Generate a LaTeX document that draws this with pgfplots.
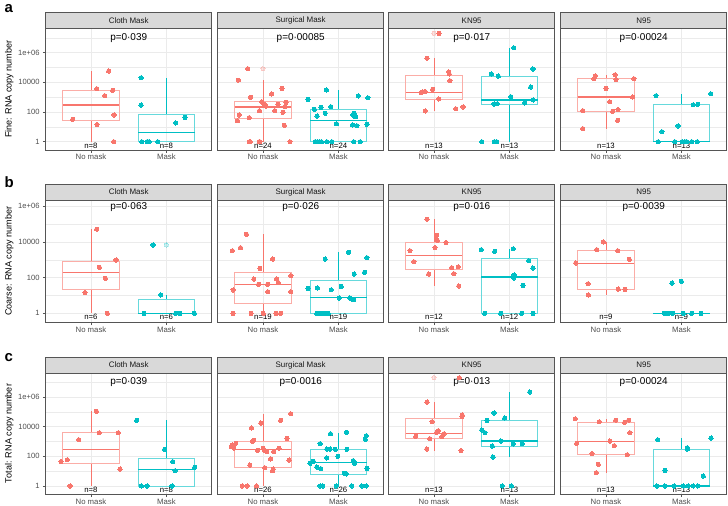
\documentclass[border=0pt]{standalone}
\usepackage{fontspec}
\setmainfont{Liberation Sans}
\usepackage{pgfplots}
\pgfplotsset{compat=1.18}
\usepgfplotslibrary{statistics}
\definecolor{nm}{HTML}{F8766D}
\definecolor{mk}{HTML}{00BFC4}
\definecolor{gridc}{HTML}{EBEBEB}
\definecolor{bordc}{HTML}{555555}
\definecolor{stripc}{HTML}{D9D9D9}
\definecolor{tickc}{HTML}{4D4D4D}

\pgfplotsset{
  fac/.style={
    scale only axis, width=166bp, clip=false,
    xmin=0.4, xmax=2.6, xtick={1,2}, xticklabels={No mask,Mask},
    ytick={0,2,4,6}, minor ytick={1,3,5,7},
    grid=both,
    major grid style={draw=gridc, line width=0.8bp},
    minor grid style={draw=gridc, line width=0.4bp},
    axis line style={draw=bordc, line width=0.7bp},
    tick align=outside, xtick pos=left, ytick pos=left,
    major tick length=2.7bp, minor tick length=0pt,
    tick style={draw=bordc, line width=0.5bp},
    tick label style={font=\fontsize{7.6}{9}\selectfont, text=tickc},
    xticklabel style={font=\fontsize{7.8}{9}\selectfont, inner sep=1.2bp},
  },
  rowac/.style={height=121.7bp, ymin=-0.56, ymax=7.64},
  rowb/.style={height=122.3bp, ymin=-0.5, ymax=6.35},
  lft/.style={yticklabels={1,100,10000,1e+06}},
  inr/.style={yticklabels={}, ytick style={draw=none}},
}

% colour, position, lower whisker, lower quartile, median, upper quartile, upper whisker
\newcommand{\bxp}[7]{\addplot[draw=#1, boxplot prepared={draw direction=y, draw position=#2,
  lower whisker=#3, lower quartile=#4, median=#5, upper quartile=#6, upper whisker=#7,
  box extend=0.75, whisker extend=0,
  every box/.style={draw=#1!60!white, line width=0.8bp},
  every median/.style={draw=#1, line width=1.3bp},
  every whisker/.style={draw=#1, line width=0.7bp}}] coordinates {};}
\newcommand{\pts}[2]{\addplot[only marks, color=#1, mark=*, mark size=2.1bp,
  mark options={solid, fill=#1, draw=#1, line width=0pt}] coordinates {#2};}
\newcommand{\outl}[2]{\addplot[only marks, color=#1, mark=*, mark size=2.1bp,
  mark options={solid, fill=#1, draw=#1, line width=0pt, opacity=0.2}] coordinates {#2};}
\newcommand{\plab}[2]{\node[font=\fontsize{10}{12}\selectfont] at (axis cs:1.5,#1) {#2};}
\newcommand{\nlab}[1]{%
  \node[anchor=north, inner sep=0.8bp, font=\fontsize{7.8}{9}\selectfont] at (axis cs:1,0) {n=#1};
  \node[anchor=north, inner sep=0.8bp, font=\fontsize{7.8}{9}\selectfont] at (axis cs:2,0) {n=#1};}
\newcommand{\strip}[3]{%
  \draw[fill=stripc, draw=bordc, line width=0.6bp] (#1bp,-#2bp) rectangle ++(166bp,-15.6bp);
  \node[font=\fontsize{8}{9}\selectfont, text=black!90] at (#1bp+83bp,-#2bp-7.8bp) {#3};}

\begin{document}
\begin{tikzpicture}
\useasboundingbox (0,0) rectangle (728bp,-506bp);

% ---------- row a: Fine ----------
\begin{axis}[fac, rowac, lft, at={(45.7bp,-150bp)}, anchor=south west]
\bxp{nm}{1}{0}{1.44}{2.47}{3.48}{4.76}
\bxp{mk}{2}{0}{0}{0.63}{1.84}{4.31}
\pts{nm}{(1.235,4.76) (1.076,3.57) (1.288,3.46) (1.182,3.10) (1.306,1.80) (0.758,1.51) (1.080,1.15) (1.301,0)}
\pts{mk}{(1.664,4.31) (1.664,2.47) (2.247,1.64) (2.123,1.26) (1.672,0) (1.743,0) (1.770,0) (1.884,0)}
\plab{7.0}{p=0·039}
\nlab{8}
\end{axis}

\begin{axis}[fac, rowac, inr, at={(217.7bp,-150bp)}, anchor=south west]
\bxp{nm}{1}{0}{1.57}{2.33}{2.69}{4.15}
\bxp{mk}{2}{0}{0}{1.44}{2.15}{3.48}
\outl{nm}{(1,4.92)}
\pts{nm}{(0.799,4.92) (0.675,4.15) (1.252,3.59) (1.114,3.21) (0.835,2.99) (0.985,2.69) (1.008,2.56) (1.021,2.45) (1.305,2.65) (1.287,2.36) (1.158,2.09) (1.265,1.98) (0.954,2.09) (0.684,1.80) (0.817,1.62) (0.662,1.41) (1.283,1.10) (0.821,0) (0.950,0) (1.358,0) (1.198,2.51) (0.830,0) (0.960,0) (1.04,2.40)}
\pts{mk}{(1.841,3.48) (1.597,2.85) (1.682,2.18) (1.770,2.31) (1.899,2.36) (1.717,1.73) (1.824,1.91) (2.263,3.08) (2.391,2.96) (2.209,1.91) (2.192,1.80) (2.227,1.68) (1.974,1.21) (2.187,1.12) (2.245,1.08) (2.378,1.17) (1.691,0) (1.722,0) (1.748,0) (1.775,0) (1.846,0) (1.912,0) (2.201,0) (2.289,0)}
\plab{7.0}{p=0·00085}
\nlab{24}
\end{axis}

\begin{axis}[fac, rowac, inr, at={(388.7bp,-150bp)}, anchor=south west]
\bxp{nm}{1}{2.07}{2.88}{3.33}{4.47}{5.62}
\bxp{mk}{2}{0}{2.52}{2.81}{4.40}{6.33}
\outl{nm}{(1,7.30)}
\pts{nm}{(1.067,7.30) (0.908,5.62) (1.195,4.71) (1.203,4.56) (1.212,4.11) (0.983,3.53) (0.851,3.35) (0.828,3.30) (1.063,2.88) (0.885,2.07) (1.288,2.22) (1.385,2.34) (0.88,3.38)}
\pts{mk}{(2.057,6.33) (1.760,4.56) (1.853,4.42) (2.312,4.90) (2.282,3.68) (2.017,3.03) (2.316,2.81) (1.796,2.54) (1.839,2.56) (2.202,2.61) (1.633,0) (1.799,0) (1.831,0)}
\plab{7.0}{p=0·017}
\nlab{13}
\end{axis}

\begin{axis}[fac, rowac, inr, at={(560.7bp,-150bp)}, anchor=south west]
\bxp{nm}{1}{0.88}{2.07}{3.01}{4.24}{4.51}
\bxp{mk}{2}{0}{0}{0}{2.49}{3.23}
\pts{nm}{(0.859,4.44) (0.841,4.24) (1.120,4.51) (1.133,4.18) (1.371,4.24) (1.000,3.59) (1.354,3.01) (1.049,2.69) (0.692,2.09) (1.159,2.16) (1.089,2.05) (1.155,1.44) (0.692,0.88)}
\pts{mk}{(1.663,3.10) (2.388,3.23) (1.742,0.67) (1.955,1.06) (2.157,2.49) (2.216,2.52) (1.694,0) (1.911,0) (2.008,0) (2.047,0) (2.070,0) (2.136,0) (2.210,0)}
\plab{7.0}{p=0·00024}
\nlab{13}
\end{axis}

% ---------- row b: Coarse ----------
\begin{axis}[fac, rowb, lft, at={(45.7bp,-322.3bp)}, anchor=south west]
\bxp{nm}{1}{0}{1.36}{2.28}{2.89}{4.72}
\bxp{mk}{2}{0}{0}{0}{0.77}{1.03}
\outl{mk}{(2,3.83)}
\pts{nm}{(1.076,4.72) (1.332,2.99) (1.111,2.58) (1.191,1.96) (0.921,1.16) (1.217,0)}
\pts{mk}{(1.823,3.83) (1.924,1.03) (1.703,0) (2.123,0) (2.180,0) (2.370,0)}
\plab{5.98}{p=0·063}
\nlab{6}
\end{axis}

\begin{axis}[fac, rowb, inr, at={(217.7bp,-322.3bp)}, anchor=south west]
\bxp{nm}{1}{0}{0.58}{1.62}{2.30}{4.42}
\bxp{mk}{2}{0}{0}{0.87}{1.85}{3.42}
\pts{nm}{(0.781,4.42) (0.702,3.68) (0.595,3.51) (1.127,3.04) (0.959,2.52) (1.371,2.11) (0.879,1.92) (1.181,1.92) (1.203,1.73) (0.941,1.62) (1.061,1.62) (0.604,1.31) (1.065,1.21) (1.367,1.21) (0.604,0) (0.843,0) (1.003,0) (1.172,0) (1.234,0)}
\pts{mk}{(2.134,3.42) (2.378,3.12) (1.824,3.04) (2.347,2.30) (2.209,2.20) (1.597,1.40) (1.722,1.42) (1.903,1.32) (2.037,1.51) (2.010,0.86) (2.152,0.86) (2.174,0.80) (2.201,0.76) (1.713,0) (1.748,0) (1.784,0) (1.819,0) (1.837,0) (1.864,0)}
\plab{5.98}{p=0·026}
\nlab{19}
\end{axis}

\begin{axis}[fac, rowb, inr, at={(388.7bp,-322.3bp)}, anchor=south west]
\bxp{nm}{1}{1.53}{2.47}{3.23}{3.98}{5.28}
\bxp{mk}{2}{0}{0}{2.04}{3.06}{3.62}
\pts{nm}{(0.908,5.28) (1.036,4.37) (1.044,4.09) (1.159,3.96) (1.014,3.68) (0.682,3.51) (0.735,2.89) (0.930,2.20) (1.235,2.56) (1.322,2.61) (1.265,2.22) (1.328,1.53)}
\pts{mk}{(1.627,3.57) (1.805,3.47) (2.051,3.62) (2.255,2.95) (2.312,2.54) (2.061,2.15) (2.057,1.98) (2.180,1.57) (1.672,0) (1.884,0) (2.163,0) (2.312,0)}
\plab{5.98}{p=0·016}
\nlab{12}
\end{axis}

\begin{axis}[fac, rowb, inr, at={(560.7bp,-322.3bp)}, anchor=south west]
\bxp{nm}{1}{1.03}{1.36}{2.80}{3.51}{4.00}
\bxp{mk}{2}{0}{0}{0}{0}{0}
\pts{nm}{(0.965,4.00) (0.877,3.57) (1.155,3.51) (1.309,3.03) (0.599,2.82) (0.762,1.66) (0.766,1.03) (1.163,1.36) (1.252,1.34)}
\pts{mk}{(1.875,1.70) (1.999,1.79) (1.773,0) (1.805,0) (1.831,0) (1.884,0) (2.025,0) (2.136,0) (2.259,0)}
\plab{5.98}{p=0·0039}
\nlab{9}
\end{axis}

% ---------- row c: Total ----------
\begin{axis}[fac, rowac, lft, at={(45.7bp,-494.3bp)}, anchor=south west]
\bxp{nm}{1}{0}{1.53}{2.47}{3.59}{5.03}
\bxp{mk}{2}{0}{0}{1.12}{1.84}{4.42}
\pts{nm}{(1.072,5.03) (1.111,3.59) (1.363,3.59) (0.837,3.12) (0.687,1.77) (0.603,1.64) (1.385,1.14) (0.723,0)}
\pts{mk}{(1.606,4.42) (1.977,2.47) (2.083,1.64) (2.114,1.03) (2.375,1.26) (1.668,0) (1.743,0) (2.074,0)}
\plab{7.0}{p=0·039}
\nlab{8}
\end{axis}

\begin{axis}[fac, rowac, inr, at={(217.7bp,-494.3bp)}, anchor=south west]
\bxp{nm}{1}{0}{1.26}{2.47}{3.01}{4.87}
\bxp{mk}{2}{0}{0.76}{1.57}{2.47}{3.57}
\pts{nm}{(1.367,4.87) (1.234,4.42) (0.972,4.24) (0.848,3.91) (0.879,3.08) (0.861,3.01) (1.318,3.21) (0.639,2.87) (0.595,2.76) (0.582,2.65) (1.016,2.40) (1.048,2.31) (1.141,2.31) (1.212,2.54) (1.101,1.82) (1.345,1.75) (0.826,1.41) (1.025,1.23) (1.136,1.14) (1.127,1.03) (0.724,0) (0.790,0) (0.914,0) (1.003,2.54) (0.613,2.56) (0.928,2.40)}
\pts{mk}{(1.895,3.52) (2.107,3.61) (2.369,3.39) (2.356,3.14) (1.757,2.85) (1.957,2.47) (1.890,2.49) (2.112,2.47) (1.846,2.49) (1.992,2.00) (1.846,1.89) (2.196,1.71) (2.214,1.53) (1.624,1.53) (1.668,1.66) (1.713,1.28) (1.766,1.17) (2.076,0.85) (2.103,0.81) (2.378,1.19) (1.757,0) (1.793,0) (1.970,0) (2.178,0) (2.311,0) (2.369,0)}
\plab{7.0}{p=0·0016}
\nlab{26}
\end{axis}

\begin{axis}[fac, rowac, inr, at={(388.7bp,-494.3bp)}, anchor=south west]
\bxp{nm}{1}{2.38}{3.19}{3.55}{4.53}{5.66}
\bxp{mk}{2}{1.95}{2.69}{3.03}{4.40}{6.33}
\outl{nm}{(1,7.30)}
\pts{nm}{(1.336,7.30) (0.908,5.66) (1.375,4.78) (1.371,4.69) (0.974,4.33) (1.058,3.73) (1.133,3.52) (0.758,3.34) (0.943,3.19) (1.106,3.32) (0.904,2.49) (1.358,2.38) (1.036,3.61)}
\pts{mk}{(2.269,6.33) (1.796,4.92) (1.703,4.42) (1.937,4.58) (1.633,3.77) (1.676,3.59) (1.888,3.03) (2.051,2.83) (2.171,2.85) (1.773,2.69) (1.782,1.95) (1.905,0) (2.025,0)}
\plab{7.0}{p=0·013}
\nlab{13}
\end{axis}

\begin{axis}[fac, rowac, inr, at={(560.7bp,-494.3bp)}, anchor=south west]
\bxp{nm}{1}{0.90}{2.15}{3.01}{4.31}{4.53}
\bxp{mk}{2}{0}{0}{0}{2.49}{3.23}
\pts{nm}{(0.594,4.53) (0.912,4.33) (1.129,4.44) (1.248,4.29) (1.301,4.44) (1.318,3.59) (0.612,2.87) (1.053,3.03) (1.110,2.72) (0.815,2.18) (1.283,2.11) (0.898,1.46) (0.872,0.90)}
\pts{mk}{(1.686,3.12) (2.392,3.23) (1.782,1.05) (2.078,2.58) (2.078,2.49) (2.290,0.67) (1.676,0) (1.782,0) (2.025,0) (2.157,0) (2.216,0) (1.902,0) (2.091,0)}
\plab{7.0}{p=0·00024}
\nlab{13}
\end{axis}

% ---------- facet strips, row letters, y labels ----------
\strip{45.7}{12.7}{Cloth Mask}
\strip{217.7}{12.7}{Surgical Mask}
\strip{388.7}{12.7}{KN95}
\strip{560.7}{12.7}{N95}
\strip{45.7}{184.3}{Cloth Mask}
\strip{217.7}{184.3}{Surgical Mask}
\strip{388.7}{184.3}{KN95}
\strip{560.7}{184.3}{N95}
\strip{45.7}{357.3}{Cloth Mask}
\strip{217.7}{357.3}{Surgical Mask}
\strip{388.7}{357.3}{KN95}
\strip{560.7}{357.3}{N95}

\node[anchor=base west, font=\bfseries\fontsize{15}{15}\selectfont] at (1bp,-12bp) {a};
\node[anchor=base west, font=\bfseries\fontsize{15}{15}\selectfont] at (1bp,-187.3bp) {b};
\node[anchor=base west, font=\bfseries\fontsize{15}{15}\selectfont] at (1bp,-361.7bp) {c};

\node[rotate=90, font=\fontsize{9.1}{11}\selectfont] at (9.3bp,-89.2bp) {Fine: RNA copy number};
\node[rotate=90, font=\fontsize{9.1}{11}\selectfont] at (9.3bp,-261.2bp) {Coarse: RNA copy number};
\node[rotate=90, font=\fontsize{9.1}{11}\selectfont] at (9.3bp,-433.5bp) {Total: RNA copy number};
\end{tikzpicture}
\end{document}
